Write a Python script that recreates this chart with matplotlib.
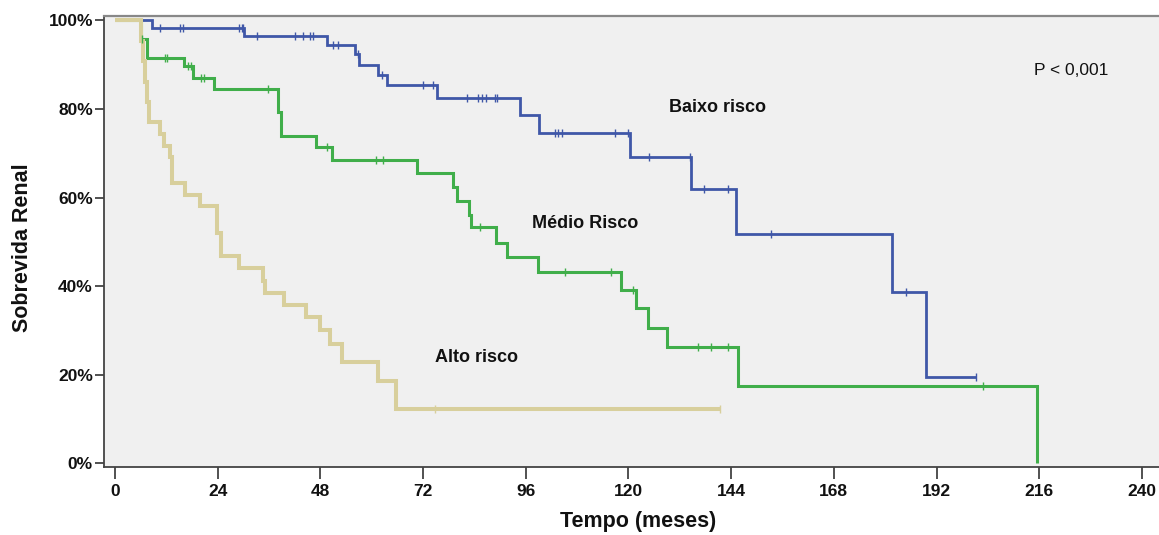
import numpy as np
import matplotlib
matplotlib.use("Agg")
import matplotlib.pyplot as plt

plt.rcParams['font.family'] = ['Liberation Sans', 'DejaVu Sans']

# ---- data ----
baixo_times = [0, 8.7, 30.2, 49.5, 56.1, 57.1, 61.5, 63.5, 75.2, 94.6, 99.1,
               120.3, 134.7, 145.1, 181.5, 189.5]
baixo_surv = [100, 98.2, 96.5, 94.5, 92.5, 90.0, 87.6, 85.4, 82.5, 78.6, 74.6,
              69.1, 62.0, 51.7, 38.7, 19.4]
baixo_end = 201.2
baixo_censor = [10.6, 15.1, 15.9, 29.0, 29.6, 30.0, 33.1, 42.1, 44.0, 45.6, 46.3,
                51.0, 52.2, 56.8, 62.3, 72.0, 74.4, 82.2, 84.9, 85.7, 86.8, 88.8,
                89.3, 102.8, 103.6, 104.4, 116.8, 119.9, 124.8, 134.5, 137.6,
                143.3, 153.4, 184.8, 201.2]

medio_times = [0, 6.1, 7.4, 16.2, 18.3, 23.2, 38.2, 38.8, 47.0, 50.8, 70.5, 79.0,
               80.0, 82.8, 83.1, 89.0, 91.7, 98.9, 118.2, 121.7, 124.6, 129.0,
               145.6, 215.5]
medio_surv = [100, 95.7, 91.6, 89.7, 87.1, 84.5, 79.3, 73.9, 71.5, 68.5, 65.5, 62.5,
              59.3, 56.1, 53.3, 49.8, 46.5, 43.2, 39.2, 35.0, 30.5, 26.2, 17.5, 0]
medio_censor = [6.4, 11.8, 12.1, 17.1, 17.7, 20.2, 20.9, 35.8, 49.5, 61.0, 62.7,
                85.3, 105.1, 116.0, 121.1, 136.3, 139.3, 143.3, 202.9]

alto_times = [0, 6.0, 6.6, 7.0, 7.5, 8.0, 10.5, 11.4, 12.8, 13.3, 16.4, 19.9, 23.9,
              24.7, 29.0, 34.6, 35.0, 39.5, 44.6, 47.9, 50.2, 53.0, 61.5, 65.7]
alto_surv = [100, 95.3, 90.8, 86.2, 81.6, 77.1, 74.3, 71.6, 69.2, 63.4, 60.6, 58.0,
             52.0, 46.8, 44.0, 41.2, 38.5, 35.7, 33.1, 30.1, 27.0, 22.8, 18.5, 12.2]
alto_end = 141.5
alto_censor = [74.9, 141.5]

x_ticks = [0, 24, 48, 72, 96, 120, 144, 168, 192, 216, 240]
y_ticks = [0, 20, 40, 60, 80, 100]
y_ticklabels = ['0%', '20%', '40%', '60%', '80%', '100%']

group_labels = ['Baixo risco', 'Médio Risco', 'Alto risco']

# ---- figure ----
W, H = 1159, 535
fig = plt.figure(figsize=(W / 100, H / 100), dpi=100)
fig.patch.set_facecolor('white')
left_px, right_px, top_px, bot_px = 104, 1159, 16, 467.3
ax = fig.add_axes([left_px / W, 1 - bot_px / H, (right_px - left_px) / W,
                   (bot_px - top_px) / H])
ax.set_facecolor('#F0F0F0')

BLUE = '#3F57A8'
GREEN = '#40AE4A'
BEIGE = '#D8CF9C'


def step_value(times, surv, t):
    idx = np.searchsorted(np.asarray(times), t, side='right') - 1
    return np.asarray(surv)[idx]


def draw(times, surv, end, censor, color, lw, zorder):
    t = list(times)
    s = list(surv)
    if end is not None:
        t = t + [end]
        s = s + [s[-1]]
    ax.step(t, s, where='post', color=color, lw=lw, zorder=zorder,
            solid_capstyle='butt', solid_joinstyle='miter')
    cy = [step_value(times, surv, c) for c in censor]
    ax.plot(censor, cy, linestyle='none', marker='|', markersize=6,
            markeredgewidth=1.0, color=color, zorder=zorder + 3)


draw(baixo_times, baixo_surv, baixo_end, baixo_censor, BLUE, 2.0, 2)
draw(medio_times, medio_surv, None, medio_censor, GREEN, 2.2, 3)
draw(alto_times, alto_surv, alto_end, alto_censor, BEIGE, 2.9, 4)

ax.set_xlim(-2.57, 244.0)
ax.set_ylim(-0.9, 101.0)

ax.set_xticks(x_ticks)
ax.set_xticklabels([str(v) for v in x_ticks], fontsize=12.5, fontweight='bold')
ax.set_yticks(y_ticks)
ax.set_yticklabels(y_ticklabels, fontsize=12.5, fontweight='bold')
ax.tick_params(axis='x', direction='out', length=8.5, width=1.2, pad=3.5,
               colors='#333333', labelcolor='#111111')
ax.tick_params(axis='y', direction='out', length=6.5, width=1.2, pad=1.5,
               colors='#333333', labelcolor='#111111')

for side in ['left', 'bottom']:
    ax.spines[side].set_color('#444444')
    ax.spines[side].set_linewidth(1.3)
ax.spines['top'].set_color('#888888')
ax.spines['top'].set_linewidth(1.6)
ax.spines['right'].set_visible(False)

ax.set_xlabel('Tempo (meses)', fontsize=15.5, fontweight='bold', color='#111111')
ax.set_ylabel('Sobrevida Renal', fontsize=15.5, fontweight='bold', color='#111111')
ax.xaxis.set_label_coords((638 - left_px) / (right_px - left_px),
                          -(521 - bot_px) / (bot_px - top_px), )
ax.xaxis.label.set_verticalalignment('center')
ax.yaxis.set_label_coords(-(104 - 23) / (right_px - left_px),
                          (bot_px - 248) / (bot_px - top_px))
ax.yaxis.label.set_verticalalignment('center')

ax.text(140.7, 80.4, group_labels[0], fontsize=13, fontweight='bold',
        ha='center', va='center', color='#111111')
ax.text(109.9, 54.2, group_labels[1], fontsize=13, fontweight='bold',
        ha='center', va='center', color='#111111')
ax.text(84.4, 24.0, group_labels[2], fontsize=13, fontweight='bold',
        ha='center', va='center', color='#111111')
ax.text(223.4, 88.8, 'P < 0,001', fontsize=12.5, ha='center', va='center',
        color='#111111')

fig.savefig('out.png', dpi=100)
